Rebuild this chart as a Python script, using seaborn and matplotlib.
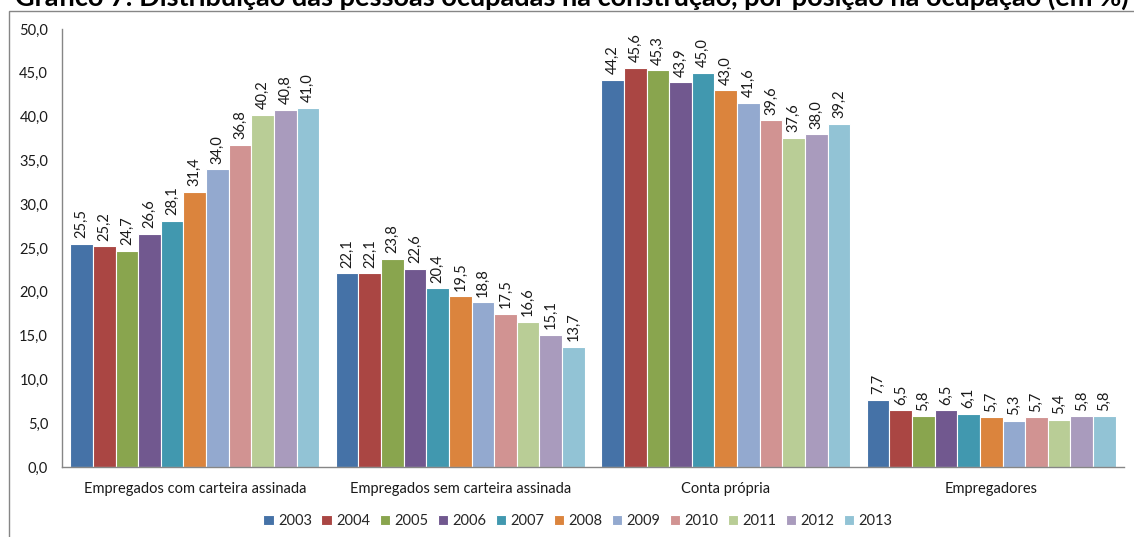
import matplotlib
matplotlib.use("Agg")
import matplotlib.pyplot as plt
from matplotlib.patches import Rectangle
from matplotlib.ticker import FuncFormatter
import seaborn as sns
import pandas as pd

# Position in occupation categories
categories = [
    "Empregados com carteira assinada",
    "Empregados sem carteira assinada",
    "Conta própria",
    "Empregadores",
]
years = ["2003", "2004", "2005", "2006", "2007", "2008",
         "2009", "2010", "2011", "2012", "2013"]

# Share of employed persons (%) per year, one list per category
com_carteira = [25.5, 25.2, 24.7, 26.6, 28.1, 31.4, 34.0, 36.8, 40.2, 40.8, 41.0]
sem_carteira = [22.1, 22.1, 23.8, 22.6, 20.4, 19.5, 18.8, 17.5, 16.6, 15.1, 13.7]
conta_propria = [44.2, 45.6, 45.3, 43.9, 45.0, 43.0, 41.6, 39.6, 37.6, 38.0, 39.2]
empregadores = [7.7, 6.5, 5.8, 6.5, 6.1, 5.7, 5.3, 5.7, 5.4, 5.8, 5.8]

colors = ["#4572A7", "#AA4643", "#89A54E", "#71588F", "#4198AF", "#DB843D",
          "#93A9CF", "#D19392", "#B9CD96", "#A99BBD", "#92C3D5"]

series = [com_carteira, sem_carteira, conta_propria, empregadores]
rows = []
for cat, vals in zip(categories, series):
    for yr, v in zip(years, vals):
        rows.append({"categoria": cat, "ano": yr, "valor": v})
df = pd.DataFrame(rows)

sns.set_theme(style="white")
plt.rcParams["font.family"] = ["Lato", "DejaVu Sans"]

W, H = 1134, 537
fig = plt.figure(figsize=(W / 100, H / 100), dpi=100)
ax = fig.add_axes([62 / W, 1 - 467 / H, (1124 - 62) / W, (467 - 29) / H])

sns.barplot(data=df, x="categoria", y="valor", hue="ano", order=categories,
            hue_order=years, palette=colors, width=0.937, saturation=1,
            edgecolor="white", linewidth=0.8, ax=ax, legend=True)

# Value labels above each bar, drawn from the same values
for cont in ax.containers:
    vals = [b.get_height() for b in cont]
    ax.bar_label(cont, labels=[f"{v:.1f}".replace(".", ",") for v in vals],
                 rotation=90, padding=4, fontsize=10.5, color="#1a1a1a")

ax.set_ylim(0, 50)
ax.set_yticks(range(0, 51, 5))
ax.yaxis.set_major_formatter(FuncFormatter(lambda v, p: f"{v:.1f}".replace(".", ",")))
ax.set_xlabel("")
ax.set_ylabel("")
ax.tick_params(axis="y", length=0, pad=10, labelsize=10.5, labelcolor="#1a1a1a")
ax.tick_params(axis="x", length=0, pad=11, labelsize=10.5, labelcolor="#1a1a1a")
ax.set_xlim(-0.5, 3.5)

for side in ["top", "right"]:
    ax.spines[side].set_visible(False)
for side in ["left", "bottom"]:
    ax.spines[side].set_color("#868686")
    ax.spines[side].set_linewidth(1.0)

handles, labels = ax.get_legend_handles_labels()
ax.legend_.remove()
fig.legend(handles, labels, loc="center", bbox_to_anchor=(578 / W, 1 - 521 / H),
           ncol=11, frameon=False, fontsize=10.5, handlelength=0.7,
           handleheight=0.7, handletextpad=0.3, columnspacing=0.65)

# Chart area frame
fig.patches.append(Rectangle((9 / W, -0.2), 1.2, 1.2 - 11 / H,
                             transform=fig.transFigure, fill=False,
                             edgecolor="#868686", linewidth=1.0))

fig.text(15 / W, 1 - 6 / H,
         "Gráfico 7: Distribuição das pessoas ocupadas na construção, por posição na ocupação (em %)",
         ha="left", va="baseline", fontsize=19.5, fontweight="bold", color="black")

fig.savefig("out.png", dpi=100)
